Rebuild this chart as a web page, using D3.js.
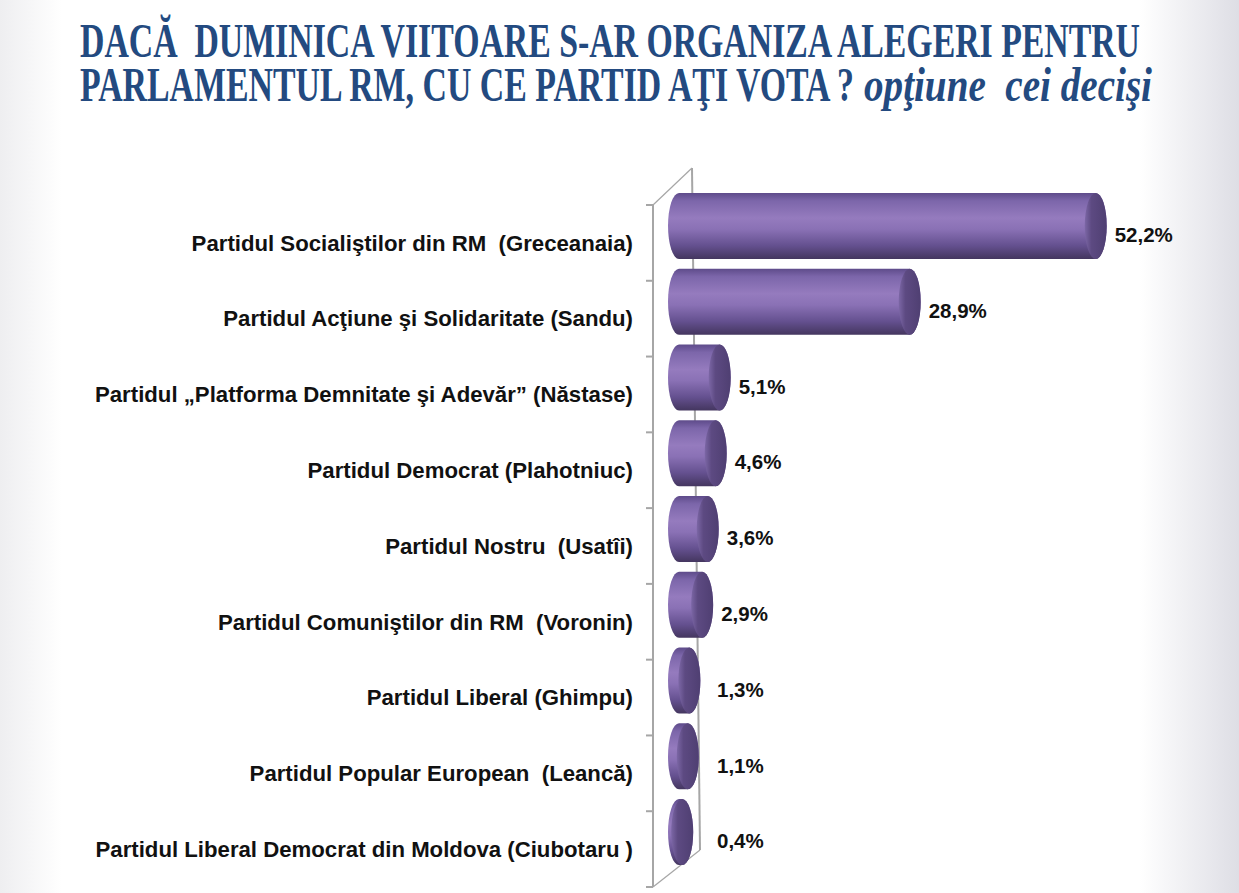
<!DOCTYPE html>
<html>
<head>
<meta charset="utf-8">
<script src="https://cdn.jsdelivr.net/npm/d3@7"></script>
<style>
  body { margin: 0; background: #fff; }
  svg { display: block; }
  text { white-space: pre; }
</style>
</head>
<body>
<div id="chart"></div>
<script>
var categories = [
  "Partidul Socialiştilor din RM  (Greceanaia)",
  "Partidul Acţiune şi Solidaritate (Sandu)",
  "Partidul „Platforma Demnitate şi Adevăr” (Năstase)",
  "Partidul Democrat (Plahotniuc)",
  "Partidul Nostru  (Usatîi)",
  "Partidul Comuniştilor din RM  (Voronin)",
  "Partidul Liberal (Ghimpu)",
  "Partidul Popular European  (Leancă)",
  "Partidul Liberal Democrat din Moldova (Ciubotaru )"
];
var values = [52.2, 28.9, 5.1, 4.6, 3.6, 2.9, 1.3, 1.1, 0.4];
var titleLine1 = "DACĂ  DUMINICA VIITOARE S-AR ORGANIZA ALEGERI PENTRU";
var titleLine2 = "PARLAMENTUL RM, CU CE PARTID AŢI VOTA ?";
var titleItalic = "opţiune  cei decişi";

var svgWidth = 1239,
    svgHeight = 893;

var svg = d3.select('#chart')
  .append('svg')
    .attr('width', svgWidth)
    .attr('height', svgHeight);

var defs = svg.append('defs');

// slide background, light grey at the edges
var bg = defs.append('linearGradient').attr('id', 'bg');
bg.append('stop').attr('offset', '0').attr('stop-color', '#eeeef0');
bg.append('stop').attr('offset', '0.05').attr('stop-color', '#ffffff');
bg.append('stop').attr('offset', '0.92').attr('stop-color', '#ffffff');
bg.append('stop').attr('offset', '1').attr('stop-color', '#dedee5');
svg.append('rect').attr('width', svgWidth).attr('height', svgHeight).attr('fill', 'url(#bg)');

// cylinder body shading
var body = defs.append('linearGradient').attr('id', 'body')
  .attr('x1', 0).attr('y1', 0).attr('x2', 0).attr('y2', 1);
[[0, '#5e4b8a'], [0.12, '#7c66aa'], [0.38, '#957bbe'], [0.55, '#8a71b5'],
 [0.8, '#64508f'], [1, '#44365f']].forEach(function (s) {
  body.append('stop').attr('offset', s[0]).attr('stop-color', s[1]);
});
var cap = defs.append('linearGradient').attr('id', 'cap')
  .attr('x1', 0).attr('y1', 0).attr('x2', 1).attr('y2', 0);
cap.append('stop').attr('offset', 0).attr('stop-color', '#7c67a6');
cap.append('stop').attr('offset', 0.3).attr('stop-color', '#5d4a82');
cap.append('stop').attr('offset', 1).attr('stop-color', '#4f3f72');

// title
var titleColor = '#234a80';
svg.append('text')
  .attr('x', 80).attr('y', 57)
  .attr('textLength', 1060).attr('lengthAdjust', 'spacingAndGlyphs')
  .style('font-family', '"Liberation Serif", serif')
  .style('font-weight', 'bold').style('font-size', '48px')
  .style('fill', titleColor)
  .text(titleLine1);
svg.append('text')
  .attr('x', 80).attr('y', 101)
  .attr('textLength', 774).attr('lengthAdjust', 'spacingAndGlyphs')
  .style('font-family', '"Liberation Serif", serif')
  .style('font-weight', 'bold').style('font-size', '48px')
  .style('fill', titleColor)
  .text(titleLine2);
svg.append('text')
  .attr('x', 864).attr('y', 101)
  .attr('textLength', 288).attr('lengthAdjust', 'spacingAndGlyphs')
  .style('font-family', '"Liberation Serif", serif')
  .style('font-weight', 'bold').style('font-style', 'italic').style('font-size', '48px')
  .style('fill', titleColor)
  .text(titleItalic);

// scales
var yscale = d3.scaleBand()
  .domain(categories)
  .range([205, 887]);

var xscale = d3.scaleLinear()
  .domain([0, 60])
  .range([679, 1158]);

var frontX = 653,
    depthX = 40,
    depthY = 37,
    rx = 11,
    ry = 33,
    lift = 17;

// axis frame (3D walls)
var axisColor = '#a6a6a6';
var frame = svg.append('g')
  .attr('stroke', axisColor).attr('stroke-width', 2).attr('fill', 'none');
frame.append('line')
  .attr('x1', frontX).attr('y1', yscale.range()[0])
  .attr('x2', frontX).attr('y2', yscale.range()[1]);
frame.append('line')
  .attr('x1', frontX + depthX - 1).attr('y1', yscale.range()[0] - depthY)
  .attr('x2', frontX + depthX + 7).attr('y2', yscale.range()[1] - depthY);
frame.append('line')
  .attr('x1', frontX).attr('y1', yscale.range()[0])
  .attr('x2', frontX + depthX - 1).attr('y2', yscale.range()[0] - depthY)
  .attr('stroke-width', 1.2);
frame.append('line')
  .attr('x1', frontX).attr('y1', yscale.range()[1])
  .attr('x2', frontX + depthX + 7).attr('y2', yscale.range()[1] - depthY)
  .attr('stroke-width', 1.2);

var tickPos = categories.map(function (c) { return yscale(c); }).concat([yscale.range()[1]]);
frame.selectAll('.tick').data(tickPos)
  .enter().append('line')
    .attr('x1', frontX - 7).attr('x2', frontX)
    .attr('y1', function (d) { return d; })
    .attr('y2', function (d) { return d; });

// category labels
svg.selectAll('.cat').data(categories)
  .enter().append('text')
    .attr('class', 'cat')
    .attr('x', 633)
    .attr('y', function (d) { return yscale(d) + yscale.bandwidth() / 2; })
    .attr('dy', '0.35em')
    .attr('text-anchor', 'end')
    .style('font-family', '"Liberation Sans", Arial, sans-serif')
    .style('font-weight', 'bold').style('font-size', '22.2px')
    .style('fill', '#111')
    .text(function (d) { return d; });

// cylinders
function cy(i) { return yscale(categories[i]) + yscale.bandwidth() / 2 - lift; }

var bars = svg.selectAll('.bar').data(values)
  .enter().append('g').attr('class', 'bar');

bars.append('path')
  .attr('fill', 'url(#body)')
  .attr('d', function (d, i) {
    var xs = xscale(0), xe = xscale(d), c = cy(i);
    return 'M' + xs + ',' + (c - ry) +
      'L' + xe + ',' + (c - ry) +
      'A' + rx + ',' + ry + ' 0 0 1 ' + xe + ',' + (c + ry) +
      'L' + xs + ',' + (c + ry) +
      'A' + rx + ',' + ry + ' 0 0 1 ' + xs + ',' + (c - ry) + 'Z';
  });

bars.append('ellipse')
  .attr('fill', 'url(#cap)')
  .attr('cx', function (d) { return xscale(d); })
  .attr('cy', function (d, i) { return cy(i); })
  .attr('rx', rx).attr('ry', ry);

// value labels
var fmt = d3.format('.1f');
svg.selectAll('.val').data(values)
  .enter().append('text')
    .attr('class', 'val')
    .attr('x', function (d) { return Math.max(xscale(d) + rx + 8, 717); })
    .attr('y', function (d, i) { return cy(i) + 9; })
    .attr('dy', '0.35em')
    .style('font-family', '"Liberation Sans", Arial, sans-serif')
    .style('font-weight', 'bold').style('font-size', '20.5px')
    .style('fill', '#111')
    .text(function (d) { return fmt(d).replace('.', ',') + '%'; });
</script>
</body>
</html>
